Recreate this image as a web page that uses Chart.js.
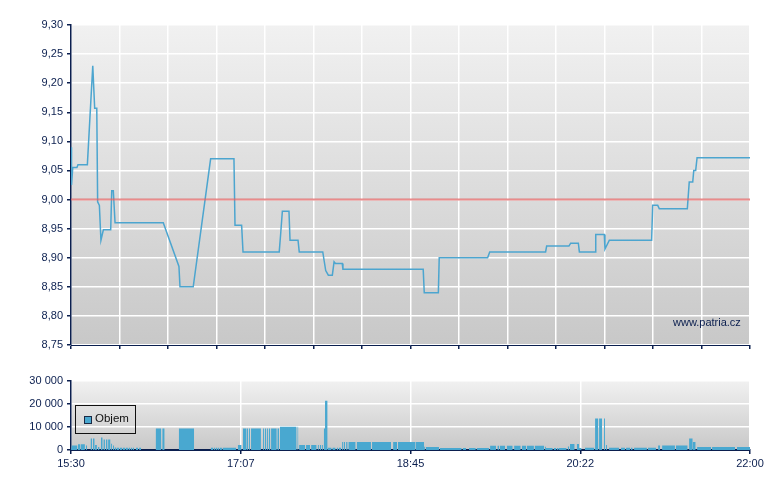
<!DOCTYPE html>
<html>
<head>
<meta charset="utf-8">
<script src="https://cdn.jsdelivr.net/npm/chart.js@4.4.1/dist/chart.umd.min.js"></script>
<style>
  body { margin: 0; background: #fff; }
  #wrap { position: relative; width: 780px; height: 490px; background: #fff; font-family: "Liberation Sans", Arial, sans-serif; }
  #priceChart { position: absolute; left: 0; top: 0; }
  #volumeChart { position: absolute; left: 0; top: 370px; }
  .watermark { position: absolute; left: 673px; top: 316px; font-size: 11px; color: #0b1f4f; }
  .legend { position: absolute; left: 75px; top: 405px; width: 59px; height: 27px; border: 1px solid #111; }
  .legend .box { position: absolute; left: 8px; top: 10px; width: 6px; height: 6px; background: #49a8d0; border: 1px solid #1b2a44; }
  .legend .txt { position: absolute; left: 19px; top: 6px; font-size: 11.5px; color: #111; }
</style>
</head>
<body>
<div id="wrap">
  <canvas id="priceChart" width="780" height="370"></canvas>
  <canvas id="volumeChart" width="780" height="120"></canvas>
  <div class="watermark">www.patria.cz</div>
  <div class="legend"><div class="box"></div><div class="txt">Objem</div></div>
</div>
<script>
// time is in minutes after 15:30 (session ends 22:00 = 390)
const sessionLength = 390;
const timeLabels = ['15:30', '17:07', '18:45', '20:22', '22:00'];
const timeTickMinutes = [0, 97.5, 195, 292.5, 390];

// price line (corners of the step line)
const priceTime = [0, 0.3, 1.0, 3.4, 4.0, 9.4, 12.5, 13.6, 14.8, 15.3, 16.3, 17.2, 18.6, 22.8, 23.4, 24.3, 25.3,
  53.0, 62.0, 62.6, 70.2, 80.2, 93.6, 94.2, 98.0, 98.8, 119.6, 120.4, 121.4, 125.2, 125.8, 130.4, 131.1,
  144.6, 146.3, 147.8, 150.1, 151.1, 151.9, 155.8, 156.2, 202.3, 202.9, 211.0, 211.5, 239.3, 240.5,
  272.6, 273.2, 286.0, 287.0, 291.4, 292.0, 301.0, 301.4, 306.3, 306.7, 309.2, 333.5, 334.1, 337.0,
  337.9, 354.0, 355.1, 357.1, 357.7, 358.8, 359.6, 390];
const priceValue = [9.09, 9.025, 9.055, 9.055, 9.06, 9.06, 9.23, 9.157, 9.157, 8.996, 8.99, 8.93, 8.948, 8.948, 9.015, 9.015, 8.96,
  8.96, 8.885, 8.85, 8.85, 9.07, 9.07, 8.956, 8.956, 8.91, 8.91, 8.94, 8.98, 8.98, 8.93, 8.93, 8.91,
  8.91, 8.878, 8.87, 8.87, 8.893, 8.89, 8.89, 8.88, 8.88, 8.84, 8.84, 8.90, 8.90, 8.91,
  8.91, 8.92, 8.92, 8.925, 8.925, 8.91, 8.91, 8.94, 8.94, 8.915, 8.93, 8.93, 8.99, 8.99,
  8.984, 8.984, 9.03, 9.03, 9.05, 9.05, 9.072, 9.072];
const previousClose = 9.00;

// volume blocks: from minute, to minute, amount
const volFrom = [0, 0.57, 4.0, 5.7, 8.6, 11.2, 12.6, 13.8, 15.5, 17.2, 18.6, 20.1, 21.3, 23.0, 24.1, 25.0, 26.1, 27.9, 29.6, 31.3, 33.0, 34.2, 35.6, 37.3, 39.1,
  48.6, 52.4, 61.9, 80.2, 81.9, 83.0, 84.1, 85.3, 87.0, 95.8, 98.8, 101.1, 102.2, 103.4, 110.3, 111.4, 112.6, 113.7, 114.9, 118.5,
  120.0, 130.0, 131.0, 135.0, 137.9, 141.7, 142.9, 144.0, 145.2, 145.9, 147.6, 150.1, 152.6, 153.9, 155.7, 156.6, 158.0, 159.3, 164.1,
  172.9, 185.0, 187.8, 197.8, 202.8, 203.9, 211.9, 225.0, 228.6, 233.0, 240.7, 244.9, 246.4, 250.3, 254.5, 259.0, 261.9, 266.3,
  272.1, 272.8, 277.4, 279.0, 280.3, 285.3, 286.6, 290.5, 291.8, 295.2, 301.0, 303.3, 306.1, 307.3, 309.0, 315.9, 318.8, 321.5,
  323.4, 331.4, 337.2, 339.5, 347.5, 355.0, 357.1, 359.6, 368.2, 382.5];
const volTo = [0.57, 3.7, 5.5, 8.0, 9.2, 12.1, 13.6, 14.9, 16.4, 18.2, 19.5, 21.0, 22.7, 23.6, 24.7, 25.9, 27.6, 29.3, 31.0, 32.7, 33.9, 35.3, 36.2, 38.5, 40.2,
  51.9, 53.8, 70.7, 81.6, 82.7, 83.9, 85.0, 86.7, 94.9, 98.0, 100.9, 101.8, 102.8, 109.1, 111.0, 112.2, 113.3, 114.5, 118.2, 119.5,
  129.6, 130.6, 134.4, 137.3, 141.1, 142.4, 143.6, 144.7, 145.9, 147.4, 149.7, 152.0, 153.5, 155.1, 156.4, 157.4, 158.9, 163.5, 172.3,
  183.8, 187.3, 197.6, 202.8, 203.5, 211.4, 224.4, 226.9, 232.5, 240.1, 244.1, 246.0, 249.3, 253.7, 258.3, 261.5, 265.9, 271.7,
  272.8, 276.7, 278.6, 280.1, 284.7, 286.2, 289.3, 291.8, 293.3, 300.6, 302.9, 305.0, 306.7, 307.9, 314.8, 318.2, 321.1, 322.6,
  330.8, 336.0, 338.3, 346.9, 354.2, 357.1, 358.8, 367.6, 381.4, 390];
const volAmount = [2400, 1900, 2500, 2500, 1900, 5000, 5000, 2200, 1300, 5400, 4500, 4500, 4500, 2700, 1900, 1100, 1000, 1000, 1000, 1000, 1000, 1000, 1000, 1000, 1000,
  9250, 9250, 9250, 1000, 1000, 1000, 1000, 1000, 1000, 2200, 9250, 9250, 9250, 9250, 9250, 9250, 9250, 9250, 9250, 9250,
  10100, 10100, 2200, 2200, 2200, 2200, 2200, 2200, 9250, 21300, 1000, 1000, 1000, 1000, 3500, 3500, 3500, 3500, 3500,
  3500, 3500, 3500, 3500, 1400, 1300, 900, 900, 900, 900, 1800, 1800, 1800, 1800, 1800, 1800, 1800, 1800,
  1400, 900, 900, 900, 900, 1500, 2600, 2600, 900, 1000, 13600, 13600, 13600, 2200, 1000, 1000, 1000, 1000,
  1000, 1000, 1900, 1900, 1900, 5000, 3500, 1300, 1300, 1300];

const navy = '#0b1f4f';
const lineBlue = '#4ca5cf';
const barBlue = '#49a8d0';
const tickFont = { family: 'Liberation Sans', size: 11 };

// gradient behind the plot area
const plotBackground = {
  id: 'plotBackground',
  beforeDraw(chart) {
    const { ctx, chartArea: a } = chart;
    const g = ctx.createLinearGradient(0, a.top, 0, a.bottom);
    g.addColorStop(0, '#f1f1f1');
    g.addColorStop(1, '#c8c8c8');
    ctx.save();
    ctx.fillStyle = g;
    ctx.fillRect(a.left, a.top, a.right - a.left, a.bottom - a.top);
    ctx.restore();
  }
};

const pricePoints = priceTime.map((t, i) => ({ x: t, y: priceValue[i] }));

new Chart(document.getElementById('priceChart'), {
  type: 'line',
  data: {
    datasets: [
      {
        data: [{ x: 0, y: previousClose }, { x: sessionLength, y: previousClose }],
        borderColor: 'rgba(226, 100, 100, 0.75)',
        borderWidth: 2,
        pointRadius: 0
      },
      {
        data: pricePoints,
        borderColor: lineBlue,
        borderWidth: 1.5,
        pointRadius: 0,
        tension: 0
      }
    ]
  },
  options: {
    responsive: false,
    animation: false,
    layout: { padding: { left: 0, right: 30, top: 25, bottom: 0 } },
    plugins: { legend: { display: false }, tooltip: { enabled: false } },
    scales: {
      x: {
        type: 'linear',
        min: 0,
        max: sessionLength,
        afterBuildTicks: scale => {
          const t = [];
          for (let i = 0; i <= 14; i++) t.push({ value: i * sessionLength / 14 });
          scale.ticks = t;
        },
        afterFit: scale => { scale.height = 25; },
        ticks: { display: false },
        grid: { color: '#ffffff', lineWidth: 1.5, tickColor: navy, tickLength: 4 },
        border: { color: navy, width: 1 }
      },
      y: {
        min: 8.75,
        max: 9.30,
        afterBuildTicks: scale => {
          const t = [];
          for (let i = 0; i <= 11; i++) t.push({ value: Math.round((8.75 + i * 0.05) * 100) / 100 });
          scale.ticks = t;
        },
        afterFit: scale => { scale.width = 71; },
        ticks: {
          color: navy,
          font: tickFont,
          padding: 4,
          callback: v => v.toFixed(2).replace('.', ',')
        },
        grid: { color: '#ffffff', lineWidth: 1.5, tickColor: navy, tickLength: 4 },
        border: { color: navy, width: 1.5 }
      }
    }
  },
  plugins: [plotBackground]
});

// each volume block becomes a filled flat segment, blocks split by gaps
const volumePoints = [];
volFrom.forEach((f, i) => {
  volumePoints.push({ x: f, y: volAmount[i] });
  volumePoints.push({ x: volTo[i], y: volAmount[i] });
  volumePoints.push({ x: volTo[i], y: null });
});

new Chart(document.getElementById('volumeChart'), {
  type: 'line',
  data: {
    datasets: [{
      label: 'Objem',
      data: volumePoints,
      borderColor: 'rgba(0,0,0,0)',
      borderWidth: 0,
      backgroundColor: barBlue,
      fill: 'origin',
      pointRadius: 0,
      spanGaps: false,
      tension: 0
    }]
  },
  options: {
    responsive: false,
    animation: false,
    layout: { padding: { left: 0, right: 30, top: 10, bottom: 0 } },
    plugins: { legend: { display: false }, tooltip: { enabled: false } },
    scales: {
      x: {
        type: 'linear',
        min: 0,
        max: sessionLength,
        afterBuildTicks: scale => { scale.ticks = timeTickMinutes.map(v => ({ value: v })); },
        afterFit: scale => { scale.height = 40; },
        ticks: {
          color: navy,
          font: tickFont,
          padding: 3,
          maxRotation: 0,
          callback: (v, i) => timeLabels[i]
        },
        grid: { color: '#ffffff', lineWidth: 1.5, tickColor: navy, tickLength: 4 },
        border: { color: navy, width: 2 }
      },
      y: {
        min: 0,
        max: 30000,
        ticks: {
          stepSize: 10000,
          color: navy,
          font: tickFont,
          padding: 4,
          callback: v => String(v).replace(/\B(?=(\d{3})+(?!\d))/g, ' ')
        },
        afterFit: scale => { scale.width = 71; },
        grid: { color: '#ffffff', lineWidth: 1.5, tickColor: navy, tickLength: 4 },
        border: { color: navy, width: 1.5 }
      }
    }
  },
  plugins: [plotBackground]
});
</script>
</body>
</html>
